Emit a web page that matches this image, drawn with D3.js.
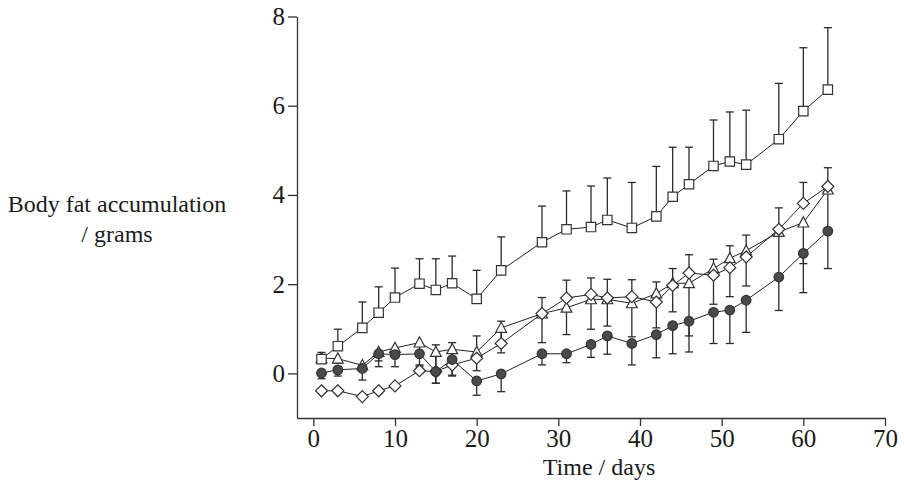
<!DOCTYPE html>
<html>
<head>
<meta charset="utf-8">
<script src="https://cdn.jsdelivr.net/npm/d3@7"></script>
<style>
  body { margin: 0; background: #fff; }
  text { font-family: "Liberation Serif", "DejaVu Serif", serif; fill: #1a1a1a; }
</style>
</head>
<body>
<div id="chart"></div>
<script>
const width = 904, height = 491;

// sampling days (x)
const days = [1, 3, 6, 8, 10, 13, 15, 17, 20, 23, 28, 31, 34, 36, 39, 42, 44, 46, 49, 51, 53, 57, 60, 63];

// open squares, bars drawn upward
const squareMean = [0.32, 0.61, 1.02, 1.36, 1.70, 2.01, 1.87, 2.02, 1.67, 2.31, 2.94, 3.23, 3.28, 3.44, 3.26, 3.52, 3.96, 4.24, 4.65, 4.75, 4.68, 5.25, 5.88, 6.36];
const squareErr = [0.15, 0.38, 0.58, 0.58, 0.66, 0.56, 0.70, 0.61, 0.64, 0.75, 0.81, 0.86, 0.92, 0.94, 1.02, 1.12, 1.11, 0.83, 1.03, 1.11, 1.22, 1.25, 1.42, 1.39];

// open diamonds, bars drawn upward
const diamondMean = [-0.39, -0.39, -0.52, -0.39, -0.28, 0.06, 0.04, 0.19, 0.34, 0.67, 1.34, 1.69, 1.77, 1.69, 1.72, 1.60, 1.97, 2.25, 2.20, 2.37, 2.61, 3.23, 3.81, 4.19];
const diamondErr = [0, 0, 0, 0, 0, 0.10, 0.60, 0.50, 0.50, 0.50, 0.36, 0.40, 0.37, 0.42, 0.38, 0.45, 0.38, 0.41, 0.36, 0.49, 0.49, 0.48, 0.47, 0.42];

// open triangles, bars drawn downward
const triangleMean = [0.34, 0.33, 0.18, 0.48, 0.57, 0.69, 0.48, 0.54, 0.48, 1.02, 1.34, 1.47, 1.66, 1.66, 1.57, 1.79, 2.02, 2.02, 2.35, 2.58, 2.75, 3.17, 3.38, 4.12];
const triangleErr = [0, 0.10, 0.10, 0.20, 0.20, 0.30, 0.70, 0.60, 0.42, 0.56, 0.65, 0.60, 0.67, 0.60, 0.75, 0.77, 0.64, 1.18, 0.80, 0.86, 0.79, 1.00, 0.92, 0.95];

// filled circles, bars drawn downward
const circleMean = [0.01, 0.08, 0.11, 0.44, 0.42, 0.44, 0.04, 0.31, -0.17, -0.01, 0.44, 0.44, 0.65, 0.84, 0.67, 0.87, 1.07, 1.17, 1.37, 1.42, 1.64, 2.16, 2.69, 3.19];
const circleErr = [0.13, 0.14, 0.26, 0.29, 0.27, 0.25, 0.26, 0.35, 0.32, 0.40, 0.25, 0.20, 0.29, 0.41, 0.48, 0.52, 0.63, 0.69, 0.70, 0.75, 0.72, 0.75, 0.88, 0.84];

const xTicks = [0, 10, 20, 30, 40, 50, 60, 70];
const yTicks = [0, 2, 4, 6, 8];

const series = [
    { shape: 'triangle', mean: triangleMean, err: triangleErr, dir: 1, fill: '#fff' },
    { shape: 'diamond', mean: diamondMean, err: diamondErr, dir: -1, fill: '#fff' },
    { shape: 'circle', mean: circleMean, err: circleErr, dir: 1, fill: '#4a4a4a' },
    { shape: 'square', mean: squareMean, err: squareErr, dir: -1, fill: '#fff' }
];

const x = d3.scaleLinear().domain([-2, 70]).range([297, 885]);
const y = d3.scaleLinear().domain([-1, 8]).range([418, 16.5]);

const svg = d3.select('#chart')
    .append('svg')
      .attr('width', width)
      .attr('height', height);

// marker outlines, centred on 0,0
function markerPath(shape) {
    if (shape === 'square') return 'M-4.7,-4.7H4.7V4.7H-4.7Z';
    if (shape === 'diamond') return 'M0,-6L6,0L0,6L-6,0Z';
    if (shape === 'triangle') return 'M0,-5.8L5.4,4.4H-5.4Z';
    return d3.symbol(d3.symbolCircle, 72)();
}

// axes
const yAxis = svg.append('g')
    .attr('transform', `translate(${x(-2)},0)`)
    .call(d3.axisLeft(y).tickValues(yTicks).tickSize(9).tickPadding(3).tickSizeOuter(0));

const xAxis = svg.append('g')
    .attr('transform', `translate(0,${y(-1)})`)
    .call(d3.axisBottom(x).tickValues(xTicks).tickSize(8).tickPadding(3).tickSizeOuter(0));

[yAxis, xAxis].forEach(a => {
    a.selectAll('path, line').attr('stroke', '#333').attr('stroke-width', 1.3);
    a.selectAll('text')
        .attr('font-family', '"Liberation Serif", serif')
        .attr('font-size', 25)
        .attr('fill', '#1a1a1a');
});

series.forEach(s => {
    let g = svg.append('g').attr('class', 'series ' + s.shape);

    // error bars (one-sided)
    let bars = g.selectAll('g.bar')
        .data(days.map((d, i) => ({ t: d, v: s.mean[i], e: s.err[i] })).filter(d => d.e > 0))
        .enter()
        .append('g')
          .attr('class', 'bar')
          .attr('stroke', '#2a2a2a')
          .attr('stroke-width', 1.3);

    bars.append('line')
        .attr('x1', d => x(d.t)).attr('x2', d => x(d.t))
        .attr('y1', d => y(d.v))
        .attr('y2', d => y(d.v - s.dir * d.e));

    bars.append('line')
        .attr('x1', d => x(d.t) - 4).attr('x2', d => x(d.t) + 4)
        .attr('y1', d => y(d.v - s.dir * d.e))
        .attr('y2', d => y(d.v - s.dir * d.e));
});

series.forEach(s => {
    let pts = days.map((d, i) => [d, s.mean[i]]);
    svg.append('path')
        .datum(pts)
        .attr('fill', 'none')
        .attr('stroke', '#222')
        .attr('stroke-width', 1)
        .attr('d', d3.line().x(d => x(d[0])).y(d => y(d[1])));
});

series.forEach(s => {
    svg.append('g').selectAll('path')
        .data(days.map((d, i) => [d, s.mean[i]]))
        .enter()
        .append('path')
          .attr('transform', d => `translate(${x(d[0])},${y(d[1])})`)
          .attr('d', markerPath(s.shape))
          .attr('fill', s.fill)
          .attr('stroke', '#333')
          .attr('stroke-width', 1.2);
});

// axis titles
const yTitle = svg.append('text')
    .attr('text-anchor', 'middle')
    .attr('font-size', 24);
yTitle.append('tspan').attr('x', 117).attr('y', 212).text('Body fat accumulation');
yTitle.append('tspan').attr('x', 117).attr('y', 242).text('/ grams');

svg.append('text')
    .attr('x', 599)
    .attr('y', 475)
    .attr('text-anchor', 'middle')
    .attr('font-size', 24)
    .text('Time / days');
</script>
</body>
</html>
